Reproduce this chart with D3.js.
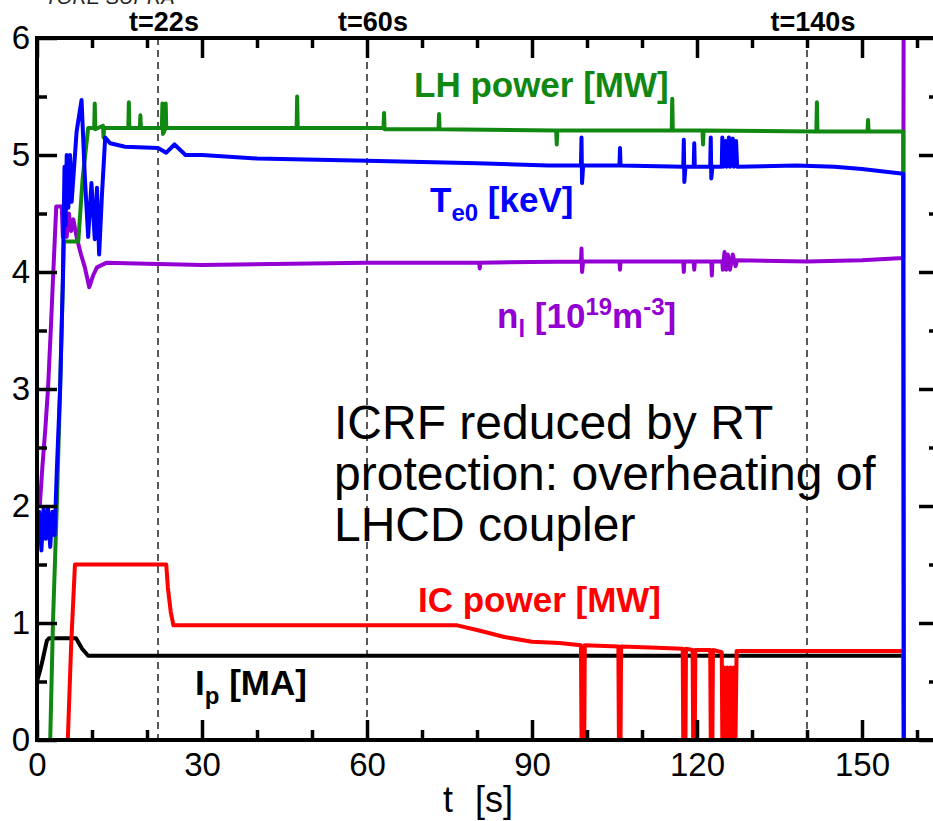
<!DOCTYPE html>
<html>
<head>
<meta charset="utf-8">
<script src="https://cdn.jsdelivr.net/npm/d3@7"></script>
<style>
body { margin: 0; background: #fff; }
svg { display: block; font-family: "Liberation Sans", Arial, Helvetica, sans-serif; }
</style>
</head>
<body>
<svg id="chart" width="933" height="821"></svg>
<script>
// values, [t (s), value]
var lhPower = [[0,0],[2.4,0],[2.9,1.0],[3.6,2.0],[4.2,3.0],[4.7,3.9],[4.9,4.26],[7.5,4.26],[8.3,4.8],[9.3,5.23],
	[10.4,5.23],[10.5,5.44],[10.6,5.22],[12.0,5.25],[12.1,5.15],[12.2,5.23],
	[16.6,5.23],[16.7,5.45],[16.8,5.23],[18.7,5.23],[18.8,5.34],[18.9,5.23],
	[22.7,5.23],[22.8,5.44],[22.9,5.18],[23.3,5.22],[23.4,5.44],[23.5,5.23],
	[47.2,5.23],[47.3,5.5],[47.4,5.23],[63.0,5.23],[63.1,5.36],[63.2,5.22],
	[73.0,5.22],[73.1,5.35],[73.2,5.22],[94.4,5.21],[94.5,5.09],[94.6,5.21],
	[115.4,5.21],[115.5,5.48],[115.6,5.21],[121.0,5.21],[121.1,5.09],[121.2,5.21],
	[141.7,5.2],[141.8,5.45],[141.9,5.2],[151,5.2],[151.1,5.3],[151.2,5.2],
	[157.5,5.2],[157.6,0]];

var te0 = [[0,1.7],[0.4,1.95],[0.8,1.62],[1.2,1.98],[1.6,1.72],[2.0,1.98],[2.4,1.65],[2.8,1.95],[3.2,1.75],
	[3.6,2.3],[4.2,3.0],[4.7,3.93],[5.0,4.9],[5.2,4.4],[5.4,5.0],[5.7,4.55],[6.0,5.0],[6.3,4.6],[7.2,5.2],
	[8.1,5.47],[8.7,4.81],[9.3,4.3],[9.9,4.76],[10.5,4.28],[10.9,4.72],[11.3,4.15],[11.8,4.65],[12.4,5.15],
	[13.3,5.1],[16,5.07],[22,5.06],[23.5,5.02],[25,5.09],[27,5.0],[30,5.0],[40,4.97],[60,4.95],[80,4.93],[93,4.91],
	[98.9,4.91],[99,5.15],[99.1,4.76],[99.3,4.91],[105.9,4.91],[106,5.06],[106.1,4.91],
	[117.5,4.9],[117.6,5.13],[117.7,4.77],[117.9,4.9],[119.4,4.9],[119.5,5.1],[119.6,4.9],
	[122.4,4.9],[122.5,5.15],[122.6,4.8],[122.8,4.9],[124.5,4.9],[124.6,5.15],[124.8,4.9],[125.2,5.12],
	[125.4,4.9],[125.8,5.15],[126,4.9],[126.5,5.14],[126.7,4.9],[127.1,5.12],[127.3,4.9],
	[138,4.91],[145,4.9],[150,4.88],[157.5,4.84],[157.6,0]];

var nl = [[0,2.05],[0.5,2.0],[1.0,2.35],[1.5,2.65],[2.0,3.0],[2.5,3.5],[2.9,3.93],[3.3,4.35],[3.5,4.56],[4.5,4.56],
	[4.7,4.3],[5.0,4.5],[5.4,4.3],[5.8,4.5],[6.2,4.35],[6.6,4.45],[7.2,4.3],[8.0,4.15],[8.7,4.04],[9.5,3.87],
	[10.2,3.97],[10.9,4.04],[12.7,4.08],[20,4.07],[30,4.06],[60,4.08],[80.4,4.08],[80.5,4.03],[80.6,4.08],
	[98.9,4.09],[99,4.2],[99.1,4.0],[99.3,4.09],[105.9,4.09],[106,4.02],[106.1,4.09],
	[117.5,4.09],[117.6,4.0],[117.7,4.09],[119.4,4.09],[119.5,4.02],[119.6,4.09],
	[122.6,4.09],[122.7,3.97],[122.8,4.09],[124.6,4.09],[124.7,4.02],[125.0,4.17],[125.3,4.02],
	[125.6,4.15],[126.0,4.02],[126.5,4.15],[127.0,4.05],[127.3,4.1],
	[140,4.09],[150,4.1],[157.5,4.12],[157.6,7]];

var icPower = [[0,0],[5.6,0],[6.2,0.8],[6.9,1.5],[23.5,1.5],[23.8,1.3],[24.3,1.1],[24.8,0.98],[76.4,0.98],
	[80,0.94],[85,0.88],[90,0.84],[95,0.83],[98.9,0.81],[99,0],[99.5,0],[99.6,0.81],
	[105.7,0.8],[105.8,0],[106.1,0],[106.2,0.8],[111.5,0.79],[117.4,0.78],[117.5,0],[117.9,0],[118,0.78],
	[119.2,0.77],[119.3,0],[119.6,0],[119.7,0.77],[122.4,0.77],[122.5,0],[122.8,0],[122.9,0.77],
	[124.5,0.75],[124.6,0],[124.9,0.62],[125.2,0],[125.5,0.62],[125.8,0],[126.1,0.62],[126.4,0],
	[126.7,0.62],[127.0,0],[127.2,0.76],[140,0.76],[157.5,0.76],[157.6,0]];

var ip = [[0,0.5],[0.6,0.6],[1.0,0.68],[1.8,0.85],[2.2,0.87],[7.1,0.87],[8.2,0.78],[9.3,0.72],[157.6,0.72]];

var xMajor = [0, 30, 60, 90, 120, 150];
var xMinor = [10, 20, 40, 50, 70, 80, 100, 110, 130, 140, 160];
var yMajor = [0, 1, 2, 3, 4, 5, 6];
var yMinor = [0.5, 1.5, 2.5, 3.5, 4.5, 5.5];
var markTimes = [22, 60, 140];
var markLabels = ["t=22s", "t=60s", "t=140s"];

var svg = d3.select("#chart");
var x = d3.scaleLinear().domain([0, 164]).range([37, 939]);
var y = d3.scaleLinear().domain([0, 6]).range([740, 38]);

svg.append("defs").append("clipPath").attr("id", "plot")
	.append("rect").attr("x", 37).attr("y", 38).attr("width", 902).attr("height", 702);

// dashed time markers
svg.selectAll(".mark").data(markTimes).enter().append("line")
	.attr("x1", function(d) { return x(d); }).attr("x2", function(d) { return x(d); })
	.attr("y1", y(6)).attr("y2", y(0))
	.attr("stroke", "#000").attr("stroke-width", 1.3).attr("stroke-dasharray", "7,5");

svg.selectAll(".markLabel").data(markTimes).enter().append("text")
	.attr("x", function(d) { return x(d) + 6; }).attr("y", 31)
	.attr("text-anchor", "middle").attr("font-size", 27).attr("font-weight", "bold")
	.text(function(d, i) { return markLabels[i]; });

svg.append("text").attr("x", 45).attr("y", 4).attr("font-size", 20).attr("font-style", "italic")
	.attr("fill", "#222").text("TORE SUPRA");

var line = d3.line().x(function(d) { return x(d[0]); }).y(function(d) { return y(d[1]); });
var series = [[ip, "#000"], [icPower, "#ff0000"], [nl, "#9400d3"], [lhPower, "#118811"], [te0, "#0000ff"]];
var g = svg.append("g").attr("clip-path", "url(#plot)");
series.forEach(function(s) {
	g.append("path").datum(s[0]).attr("d", line)
		.attr("fill", "none").attr("stroke", s[1]).attr("stroke-width", 4)
		.attr("stroke-linejoin", "round");
});

// axes, ticks inward
function styleAxis(sel) {
	sel.select(".domain").remove();
	sel.selectAll(".tick line").attr("stroke-width", 3.5);
	sel.selectAll("text").attr("font-size", 33).attr("font-family", "Liberation Sans, Arial, sans-serif");
}
svg.append("g").attr("transform", "translate(0,740)")
	.call(d3.axisBottom(x).tickValues(xMajor).tickSize(-20).tickPadding(13)).call(styleAxis);
svg.append("g").attr("transform", "translate(0,740)")
	.call(d3.axisBottom(x).tickValues(xMinor).tickSize(-10).tickFormat("")).call(styleAxis);
svg.append("g").attr("transform", "translate(0,38)")
	.call(d3.axisTop(x).tickValues(xMajor).tickSize(-20).tickFormat("")).call(styleAxis);
svg.append("g").attr("transform", "translate(0,38)")
	.call(d3.axisTop(x).tickValues(xMinor).tickSize(-10).tickFormat("")).call(styleAxis);
svg.append("g").attr("transform", "translate(37,0)")
	.call(d3.axisLeft(y).tickValues(yMajor).tickFormat(d3.format("d")).tickSize(-20).tickPadding(7)).call(styleAxis);
svg.append("g").attr("transform", "translate(37,0)")
	.call(d3.axisLeft(y).tickValues(yMinor).tickSize(-10).tickFormat("")).call(styleAxis);
svg.append("g").attr("transform", "translate(939,0)")
	.call(d3.axisRight(y).tickValues(yMajor).tickSize(-20).tickFormat("")).call(styleAxis);
svg.append("g").attr("transform", "translate(939,0)")
	.call(d3.axisRight(y).tickValues(yMinor).tickSize(-10).tickFormat("")).call(styleAxis);

svg.append("rect").attr("x", 37).attr("y", 38).attr("width", 902).attr("height", 702)
	.attr("fill", "none").attr("stroke", "#000").attr("stroke-width", 4);

svg.append("text").attr("x", 478).attr("y", 812).attr("text-anchor", "middle")
	.attr("font-size", 36).attr("word-spacing", 12).text("t [s]");

// curve labels
function label(px, py, color, parts) {
	var t = svg.append("text").attr("x", px).attr("y", py).attr("fill", color)
		.attr("font-size", 35).attr("font-weight", "bold");
	parts.forEach(function(p) {
		t.append("tspan").attr("dy", p[1]).attr("font-size", p[2] || 35).text(p[0]);
	});
}
label(414, 97, "#118811", [["LH power [MW]", 0]]);
label(430, 212, "#0000ff", [["T", 0], ["e0", 9, 24], [" [keV]", -9]]);
label(497, 328, "#9400d3", [["n", 0], ["l", 9, 24], [" [10", -9], ["19", -13, 24], ["m", 13], ["-3", -13, 24], ["]", 13]]);
label(418, 612, "#ff0000", [["IC power [MW]", 0]]);
label(195, 695, "#000", [["I", 0], ["p", 9, 24], [" [MA]", -9]]);

var note = ["ICRF reduced by RT", "protection: overheating of", "LHCD coupler"];
svg.selectAll(".note").data(note).enter().append("text")
	.attr("x", 334).attr("y", function(d, i) { return 439 + i * 51; })
	.attr("font-size", 48).text(function(d) { return d; });
</script>
</body>
</html>
